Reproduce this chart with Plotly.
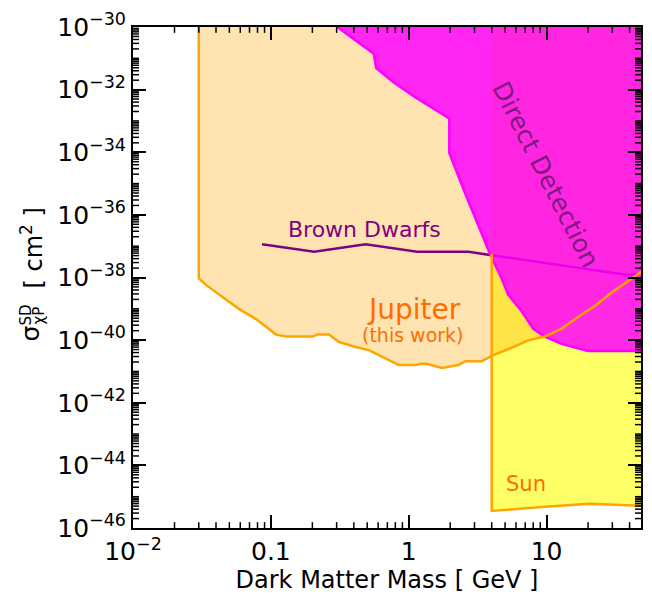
import numpy as np
import plotly.graph_objects as go

# ---------------- data ----------------
# Jupiter (this work) exclusion boundary
jup_mass = [0.030, 0.030, 0.034, 0.0437, 0.0593, 0.0782, 0.0923, 0.109, 0.129, 0.200,
            0.218, 0.264, 0.312, 0.412, 0.514, 0.847, 1.12, 1.25, 1.39, 1.74,
            2.29, 2.57, 3.38, 4.11, 5.57, 7.35, 9.70, 12.8, 16.9, 22.3,
            29.4, 38.7, 48.4, 55.0]
jup_sigma = [1e-30, 9.3e-39, 5.7e-39, 2.5e-39, 9.6e-40, 4.7e-40, 2.6e-40, 1.5e-40, 1.3e-40, 1.3e-40,
             1.5e-40, 1.5e-40, 8.7e-41, 6.0e-41, 4.8e-41, 1.6e-41, 1.6e-41, 1.8e-41, 1.7e-41, 1.3e-41,
             1.6e-41, 2.1e-41, 2.1e-41, 3.3e-41, 5.7e-41, 9.8e-41, 1.3e-40, 2.3e-40, 5.5e-40, 1.2e-39,
             3.2e-39, 7.3e-39, 1.5e-38, 2.5e-38]

# Direct detection boundary
dd_mass = [0.303, 0.558, 0.581, 0.780, 1.12, 1.97, 1.97, 2.57, 3.89, 4.72,
           5.28, 6.58, 8.0, 9.7, 12.8, 16.9, 19.9, 55.0]
dd_sigma = [1e-30, 1.4e-31, 4.9e-32, 1.7e-32, 5.6e-33, 1.2e-33, 9.5e-35, 4.8e-36, 5.6e-38, 9.3e-39,
            2.8e-39, 8.5e-40, 2.3e-40, 1.3e-40, 7.6e-41, 5.3e-41, 4.5e-41, 4.5e-41]

# Brown dwarfs limit
bd_mass = [0.0863, 0.206, 0.487, 1.15, 2.71, 3.89, 38.7, 47.1]
bd_sigma = [1.15e-37, 6.6e-38, 1.15e-37, 6.6e-38, 6.6e-38, 5.2e-38, 1.2e-38, 1.3e-38]

# Sun limit
sun_mass = [4.0, 4.0, 9.7, 20.5, 55.0]
sun_sigma = [5.6e-38, 3.5e-46, 4.8e-46, 6.0e-46, 5.0e-46]

# axis ticks
x_tickvals = [0.01, 0.1, 1, 10]
x_ticktext = ["10<sup>\u22122</sup>", "0.1", "1", "10"]
y_exponents = [-46, -44, -42, -40, -38, -36, -34, -32, -30]

FONT = "DejaVu Sans"
TOP = 1e-29  # closure above the plotted range
XR = [-2, 1.685]
YR = [-46, -30]
PLOT_W, PLOT_H = 510, 512
MINOR_LEN = 6

fig = go.Figure()

# Sun region (yellow), extends up under the direct-detection region
fig.add_trace(go.Scatter(
    x=sun_mass[1:] + [sun_mass[-1], sun_mass[0]],
    y=sun_sigma[1:] + [TOP, TOP],
    fill="toself", fillcolor="#ffff66", mode="lines", line=dict(width=0),
    hoverinfo="skip"))

# Jupiter region (light orange, translucent)
fig.add_trace(go.Scatter(
    x=jup_mass + [jup_mass[-1], jup_mass[0]],
    y=jup_sigma + [TOP, TOP],
    fill="toself", fillcolor="rgba(255,165,0,0.3)", mode="lines", line=dict(width=0),
    hoverinfo="skip"))

# Brown dwarfs line
fig.add_trace(go.Scatter(
    x=bd_mass, y=bd_sigma, mode="lines",
    line=dict(color="#800080", width=2.5), hoverinfo="skip"))

# Direct detection region
fig.add_trace(go.Scatter(
    x=dd_mass + [dd_mass[-1], dd_mass[0]],
    y=dd_sigma + [TOP, TOP],
    fill="toself", fillcolor="rgba(255,0,255,0.84)", mode="lines", line=dict(width=0),
    hoverinfo="skip"))
fig.add_trace(go.Scatter(
    x=dd_mass, y=dd_sigma, mode="lines",
    line=dict(color="#ff00ff", width=2.5), hoverinfo="skip"))

# Jupiter boundary line
fig.add_trace(go.Scatter(
    x=jup_mass, y=jup_sigma, mode="lines",
    line=dict(color="#ffa500", width=2.5), hoverinfo="skip"))

# Sun boundary line
fig.add_trace(go.Scatter(
    x=sun_mass, y=sun_sigma, mode="lines",
    line=dict(color="#ffa500", width=2.5), hoverinfo="skip"))

# ---------------- minor ticks (short segments, lengths converted to decades) ----------------
x_minor = [k * 10.0 ** e for e in range(-2, 2) for k in range(2, 10)]
y_minor = [k * 10.0 ** e for e in range(-46, -30) for k in range(1, 10)
           if not (k == 1 and e in y_exponents)]
dy_dec = MINOR_LEN * (YR[1] - YR[0]) / PLOT_H
dx_dec = MINOR_LEN * (XR[1] - XR[0]) / PLOT_W
ybot, ytop = 10.0 ** YR[0], 10.0 ** YR[1]
xlef, xrig = 10.0 ** XR[0], 10.0 ** XR[1]
mx, my = [], []
for v in x_minor:
    mx += [v, v, None, v, v, None]
    my += [ybot, 10 ** (YR[0] + dy_dec), None, ytop, 10 ** (YR[1] - dy_dec), None]
for v in y_minor:
    mx += [xlef, 10 ** (XR[0] + dx_dec), None, xrig, 10 ** (XR[1] - dx_dec), None]
    my += [v, v, None, v, v, None]
fig.add_trace(go.Scatter(x=mx, y=my, mode="lines",
                         line=dict(color="black", width=1.5), hoverinfo="skip"))

# ---------------- annotations ----------------
ann = [
    dict(x=np.log10(0.481), y=np.log10(3.4e-37), text="Brown Dwarfs",
         font=dict(family=FONT, size=22, color="#800080"), textangle=0),
    dict(x=np.log10(9.9), y=np.log10(2.0e-35), text="Direct Detection",
         font=dict(family=FONT, size=25, color="#7d1a80"), textangle=63),
    dict(x=np.log10(1.09), y=np.log10(9.3e-40), text="Jupiter",
         font=dict(family=FONT, size=28, color="#ff6d00"), textangle=0),
    dict(x=np.log10(1.07), y=np.log10(1.45e-40), text="(this work)",
         font=dict(family=FONT, size=19, color="#ff6d00"), textangle=0),
    dict(x=np.log10(7.1), y=np.log10(2.6e-45), text="Sun",
         font=dict(family=FONT, size=21, color="#ff6d00"), textangle=0),
]
for a in ann:
    fig.add_annotation(xref="x", yref="y", showarrow=False, **a)

# y-axis title built from pieces so that SD and chi-P stack like the original
ytitle_parts = [
    ("\u03c3", 25, -103, -56),
    ("SD", 15, -108, -38),
    ("\u03c7P", 15, -95, -38),
    ("[ cm<sup>2</sup> ]", 24, -102, 29),
]
for txt, size, dx, dy in ytitle_parts:
    fig.add_annotation(xref="paper", yref="paper", x=0, y=0.5, xshift=dx, yshift=dy,
                       xanchor="center", yanchor="middle",
                       text=txt, textangle=-90, showarrow=False,
                       font=dict(family=FONT, size=size, color="black"))

# ---------------- axes ----------------
axis_common = dict(
    type="log", showgrid=False, zeroline=False,
    showline=True, linewidth=2, linecolor="black",
    mirror="allticks", ticks="inside", ticklen=13, tickwidth=2, tickcolor="black",
    tickfont=dict(family=FONT, size=25, color="black"),
)

fig.update_layout(
    xaxis=dict(
        **axis_common,
        range=XR,
        tickmode="array", tickvals=x_tickvals, ticktext=x_ticktext,
        title=dict(text="Dark Matter Mass [ GeV ]",
                   font=dict(family=FONT, size=24, color="black"), standoff=5),
    ),
    yaxis=dict(
        **axis_common,
        range=YR,
        tickmode="array",
        tickvals=[10.0 ** e for e in y_exponents],
        ticktext=["10<sup>\u2212%d</sup>" % (-e) for e in y_exponents],
    ),
    width=652, height=597,
    margin=dict(l=133, r=9, t=23, b=62),
    plot_bgcolor="white", paper_bgcolor="white",
    showlegend=False,
    font=dict(family=FONT),
)

fig.write_html("out.html")
